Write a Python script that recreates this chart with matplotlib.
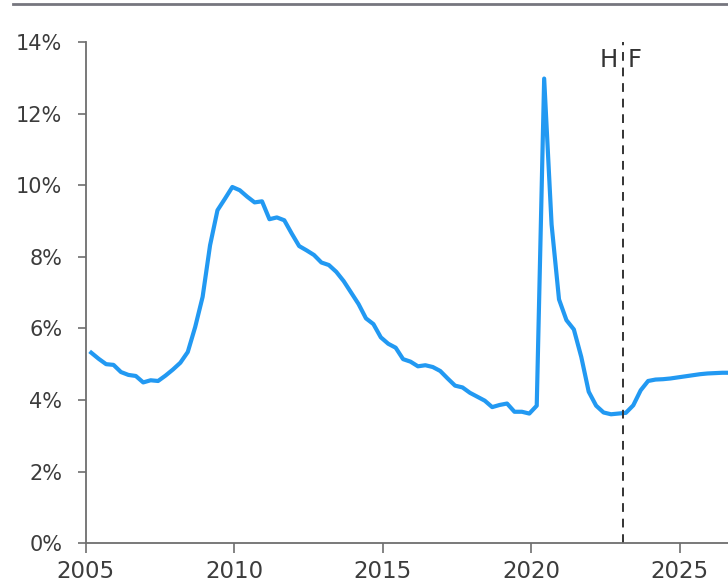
import matplotlib
matplotlib.use('Agg')
import matplotlib.pyplot as plt
from matplotlib.lines import Line2D
import pandas as pd


# Quarterly unemployment rate (%), 2005Q1 onwards; forecast after the H|F split
unemployment_rate = [
    5.32, 5.15, 5.00, 4.98, 4.78, 4.70, 4.67, 4.49, 4.55, 4.53,
    4.68, 4.85, 5.04, 5.34, 6.04, 6.88, 8.32, 9.30, 9.62, 9.95,
    9.86, 9.68, 9.52, 9.55, 9.05, 9.10, 9.02, 8.65, 8.30, 8.18,
    8.05, 7.84, 7.77, 7.58, 7.32, 7.00, 6.68, 6.28, 6.12, 5.75,
    5.57, 5.46, 5.14, 5.07, 4.94, 4.97, 4.92, 4.81, 4.60, 4.40,
    4.35, 4.20, 4.09, 3.98, 3.80, 3.86, 3.90, 3.67, 3.67, 3.62,
    3.84, 12.98, 8.90, 6.81, 6.23, 5.97, 5.20, 4.23, 3.84, 3.65,
    3.60, 3.62, 3.64, 3.85, 4.27, 4.53, 4.57, 4.58, 4.60, 4.63,
    4.66, 4.69, 4.72, 4.74, 4.75, 4.76, 4.76,
]
start_quarter = '2005Q1'
split_year = 2023.07
x_ticks = [2005, 2010, 2015, 2020, 2025]
y_ticks = [0, 2, 4, 6, 8, 10, 12, 14]

quarters = pd.period_range(start_quarter, periods=len(unemployment_rate), freq='Q')
x_vals = [q.year + (q.quarter - 1) / 4 + 0.18 for q in quarters]

text_color = '#3c3c3c'
axis_color = '#6e6e6e'

fig = plt.figure(figsize=(7.28, 5.84), dpi=100)
ax = fig.add_axes([0.118, 0.070, 0.882, 0.858])

ax.plot(x_vals, unemployment_rate, color='#2299f2', linewidth=3.0,
        solid_joinstyle='round', clip_on=True)
ax.axvline(split_year, color='#333333', linewidth=1.4, dashes=(4.5, 3.5))

ax.text(split_year - 0.17, 13.5, 'H', ha='right', va='center',
        fontsize=17.5, color='#333333')
ax.text(split_year + 0.17, 13.5, 'F', ha='left', va='center',
        fontsize=17.5, color='#333333')

ax.set_xlim(2005, 2026.62)
ax.set_ylim(0, 14)
ax.set_xticks(x_ticks)
ax.set_xticklabels([str(x) for x in x_ticks])
ax.set_yticks(y_ticks)
ax.set_yticklabels([f'{y}%' for y in y_ticks])

for side in ['top', 'right']:
    ax.spines[side].set_visible(False)
for side in ['left', 'bottom']:
    ax.spines[side].set_color(axis_color)
    ax.spines[side].set_linewidth(1.3)

ax.tick_params(axis='x', length=7, width=1.2, color=axis_color,
               labelsize=16.5, labelcolor=text_color, pad=5)
ax.tick_params(axis='y', length=6, width=1.2, color=axis_color,
               labelsize=15, labelcolor=text_color, pad=11)

# grey rule across the top of the figure
fig.add_artist(Line2D([0.018, 1.0], [0.993, 0.993], color='#76767e',
                      linewidth=2.0, transform=fig.transFigure))

fig.savefig('out.png', dpi=100)
